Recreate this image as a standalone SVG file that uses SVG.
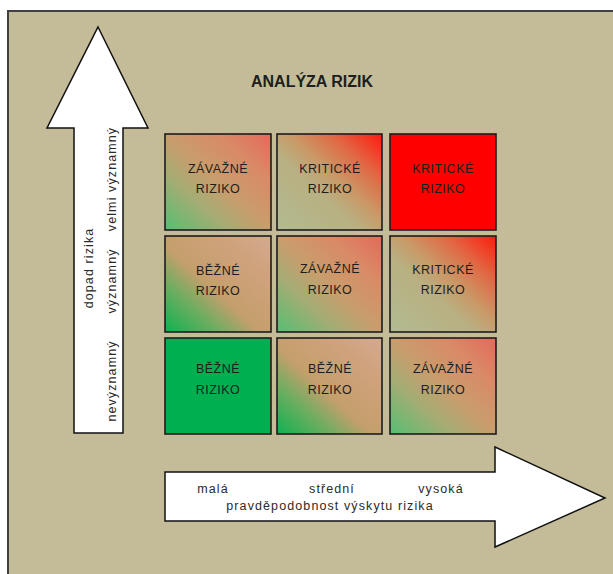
<svg xmlns="http://www.w3.org/2000/svg" width="613" height="574" viewBox="0 0 613 574">
<defs>
<linearGradient id="gZav" x1="0" y1="1" x2="1" y2="0">
<stop offset="0" stop-color="#55bf72"/>
<stop offset="0.3" stop-color="#a5ac74"/>
<stop offset="0.5" stop-color="#c99d6c"/>
<stop offset="0.75" stop-color="#d98a66"/>
<stop offset="1" stop-color="#e4695a"/>
</linearGradient>
<linearGradient id="gKrit" x1="0" y1="1" x2="1" y2="0">
<stop offset="0" stop-color="#b2bb90"/>
<stop offset="0.4" stop-color="#b8b082"/>
<stop offset="0.55" stop-color="#c99a68"/>
<stop offset="0.75" stop-color="#e06a45"/>
<stop offset="1" stop-color="#ff1a0e"/>
</linearGradient>
<linearGradient id="gBez" x1="0" y1="1" x2="1" y2="0">
<stop offset="0" stop-color="#0fb150"/>
<stop offset="0.25" stop-color="#6aae60"/>
<stop offset="0.45" stop-color="#c49f6b"/>
<stop offset="0.75" stop-color="#cfa27c"/>
<stop offset="1" stop-color="#d4aa90"/>
</linearGradient>
</defs>
<style>
.cell{stroke:#1c1c1c;stroke-width:1.6}
.ct{font-family:"Liberation Sans",Arial,sans-serif;font-size:12.5px;letter-spacing:0.5px;fill:#1e1e1e;text-anchor:middle}
.ax{fill:#ffffff;stroke:#111111;stroke-width:1.5;stroke-linejoin:miter}
.lab{font-family:"Liberation Sans",Arial,sans-serif;font-size:12.5px;letter-spacing:1.1px;fill:#2a2a2a}
.title{font-family:"Liberation Sans",Arial,sans-serif;font-size:16px;font-weight:bold;fill:#1e1e1e;text-anchor:middle}
</style>
<rect x="8" y="11" width="620" height="580" fill="#c4bc99" stroke="#404040" stroke-width="2"/>
<g id="title"><text class="title" x="312" y="87">ANALÝZA RIZIK</text></g>
<g id="connectors">
<g id="axis-y">
<polygon class="ax" points="98,27 148,128 123,128 123,433 74,433 74,128 47,128"/>
<text class="lab" text-anchor="middle" transform="translate(93,268) rotate(-90)">dopad rizika</text>
<text class="lab" text-anchor="middle" transform="translate(116,381) rotate(-90)">nevýznamný</text>
<text class="lab" text-anchor="middle" transform="translate(116,281) rotate(-90)">významný</text>
<text class="lab" text-anchor="middle" transform="translate(116,179) rotate(-90)">velmi významný</text>
</g>
<g id="axis-x">
<polygon class="ax" points="165,472 495,472 495,447 605,498 495,547 495,521 165,521"/>
<text class="lab" text-anchor="middle" x="213" y="493">malá</text>
<text class="lab" text-anchor="middle" x="332" y="493">střední</text>
<text class="lab" text-anchor="middle" x="441" y="493">vysoká</text>
<text class="lab" text-anchor="middle" x="330" y="510">pravděpodobnost výskytu rizika</text>
</g>
</g>
<g id="r1c1"><rect class="cell" x="165" y="134" width="106" height="96" fill="url(#gZav)"/><text class="ct" x="218" y="173">ZÁVAŽNÉ</text><text class="ct" x="218" y="193">RIZIKO</text></g>
<g id="r1c2"><rect class="cell" x="277" y="134" width="105" height="96" fill="url(#gKrit)"/><text class="ct" x="330" y="173">KRITICKÉ</text><text class="ct" x="330" y="193">RIZIKO</text></g>
<g id="r1c3"><rect class="cell" x="390" y="134" width="106" height="96" fill="#ff0000"/><text class="ct" x="443" y="173">KRITICKÉ</text><text class="ct" x="443" y="193">RIZIKO</text></g>
<g id="r2c1"><rect class="cell" x="165" y="236" width="106" height="96" fill="url(#gBez)"/><text class="ct" x="218" y="275">BĚŽNÉ</text><text class="ct" x="218" y="295">RIZIKO</text></g>
<g id="r2c2"><rect class="cell" x="277" y="236" width="105" height="96" fill="url(#gZav)"/><text class="ct" x="330" y="273">ZÁVAŽNÉ</text><text class="ct" x="330" y="294">RIZIKO</text></g>
<g id="r2c3"><rect class="cell" x="390" y="236" width="106" height="96" fill="url(#gKrit)"/><text class="ct" x="443" y="274">KRITICKÉ</text><text class="ct" x="443" y="294">RIZIKO</text></g>
<g id="r3c1"><rect class="cell" x="165" y="338" width="106" height="96" fill="#00b050"/><text class="ct" x="218" y="373">BĚŽNÉ</text><text class="ct" x="218" y="394">RIZIKO</text></g>
<g id="r3c2"><rect class="cell" x="277" y="338" width="105" height="96" fill="url(#gBez)"/><text class="ct" x="330" y="373">BĚŽNÉ</text><text class="ct" x="330" y="394">RIZIKO</text></g>
<g id="r3c3"><rect class="cell" x="390" y="338" width="106" height="96" fill="url(#gZav)"/><text class="ct" x="443" y="373">ZÁVAŽNÉ</text><text class="ct" x="443" y="394">RIZIKO</text></g>
</svg>
